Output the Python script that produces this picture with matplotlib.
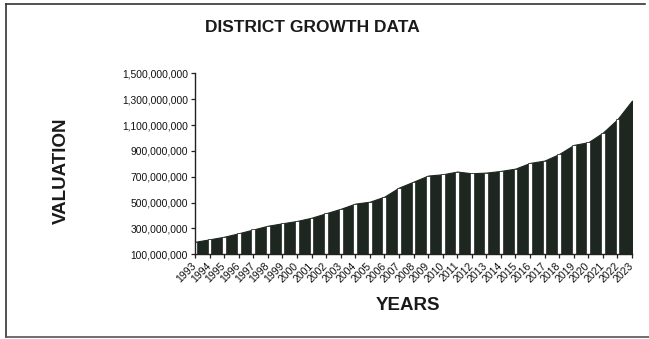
import matplotlib
matplotlib.use("Agg")
import matplotlib.pyplot as plt
from matplotlib.lines import Line2D
from matplotlib.ticker import FuncFormatter

plt.rcParams['font.family'] = ['Liberation Sans', 'DejaVu Sans']

years = list(range(1993, 2024))
values = [197e6, 216e6, 236e6, 263e6, 292e6, 321e6, 340e6, 358e6, 383e6, 418e6,
          452e6, 492e6, 507e6, 546e6, 616e6, 662e6, 709e6, 719e6, 740e6, 727e6,
          732e6, 745e6, 763e6, 807e6, 825e6, 876e6, 946e6, 967e6, 1041e6, 1145e6,
          1289e6]
yticks = [100e6, 300e6, 500e6, 700e6, 900e6, 1100e6, 1300e6, 1500e6]

title = "DISTRICT GROWTH DATA"
xlabel = "YEARS"
ylabel = "VALUATION"

fig = plt.figure(figsize=(6.49, 3.39), dpi=100)
ax = fig.add_axes([0.3005, 0.2498, 0.6733, 0.534])

base = yticks[0]
ax.fill_between(years, base, values, color='#1e2620', linewidth=0.8, edgecolor='#1e2620', zorder=2)
ax.bar(years[:-1], [v - base for v in values[:-1]], bottom=base, width=0.26,
       color='white', edgecolor='#1e2620', linewidth=0.5, zorder=3, align='center')

ax.set_xlim(years[0], years[-1])
ax.set_ylim(yticks[0], yticks[-1])
ax.set_yticks(yticks)
ax.yaxis.set_major_formatter(FuncFormatter(lambda v, p: f"{v:,.0f}"))
ax.set_xticks(years)
ax.set_xticklabels([str(y) for y in years], rotation=45, ha='right', va='center',
                   rotation_mode='anchor')

for s in ['top', 'right']:
    ax.spines[s].set_visible(False)
for s in ['left', 'bottom']:
    ax.spines[s].set_linewidth(1.0)
    ax.spines[s].set_color('#222222')
    ax.spines[s].set_zorder(5)

ax.tick_params(axis='both', direction='out', length=3, width=0.9, color='#222222',
               labelsize=7.4, labelcolor='#111111', pad=2)
ax.tick_params(axis='x', pad=4, labelsize=7.6)

fig.text(312/649, 1 - 28/339, title, ha='center', va='center', fontsize=12.5,
         fontweight='bold', color='#1a1a1a')
fig.text(408/649, 1 - 305/339, xlabel, ha='center', va='center', fontsize=13.5,
         fontweight='bold', color='#1a1a1a')
fig.text(61/649, 1 - 171/339, ylabel, ha='center', va='center', fontsize=13.5,
         fontweight='bold', color='#1a1a1a', rotation=90)

# outer frame
fig.add_artist(Line2D([6/649, 6/649], [1 - 4/339, 1 - 337/339], transform=fig.transFigure,
                      color='#333333', linewidth=1.2))
fig.add_artist(Line2D([6/649, 645/649], [1 - 4/339, 1 - 4/339], transform=fig.transFigure,
                      color='#333333', linewidth=1.2))
fig.add_artist(Line2D([6/649, 1.0], [1 - 337/339, 1 - 337/339], transform=fig.transFigure,
                      color='#555555', linewidth=1.2))

fig.savefig("out.png", dpi=100)
